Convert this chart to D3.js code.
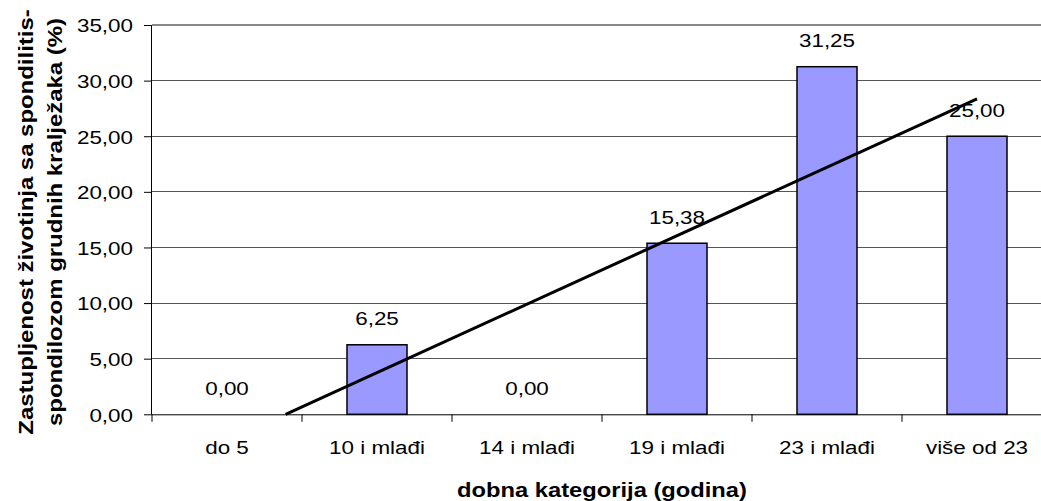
<!DOCTYPE html>
<html><head><meta charset="utf-8">
<script src="https://cdn.jsdelivr.net/npm/d3@7"></script>
<style>body{margin:0;background:#fff}svg{display:block;font-family:"Liberation Sans",Arial,sans-serif}</style>
</head><body>
<svg id="c" width="1041" height="501"></svg>
<script>
const categories = ["do 5","10 i mlađi","14 i mlađi","19 i mlađi","23 i mlađi","više od 23"];
const values = [0.00, 6.25, 0.00, 15.38, 31.25, 25.00];
const yTicks = [0,5,10,15,20,25,30,35];
const xTitle = "dobna kategorija (godina)";
const yTitle = ["Zastupljenost životinja sa spondilitis-","spondilozom grudnih kralježaka (%)"];

const FONT = '"Liberation Sans",Arial,sans-serif';
const FS = 19, SX = 1.18;
const svg = d3.select("#c");
const L = 152, R = 1052, T = 25, B = 414.3;
const x = d3.scaleBand().domain(categories).range([L, R]).paddingInner(0.6).paddingOuter(0.3);
const xc = d3.scaleBand().domain(categories).range([L, R]);
const y = d3.scaleLinear().domain([0, 35]).range([B, T]);
const fmt = v => v.toFixed(2).replace(".", ",");

// gridlines
svg.append("g").selectAll("line").data(yTicks.filter(d => d > 0 && d < 35)).join("line")
  .attr("x1", L).attr("x2", 1041).attr("y1", d => y(d)).attr("y2", d => y(d))
  .attr("stroke", "#555").attr("stroke-width", 1).attr("shape-rendering","crispEdges");
svg.append("line").attr("x1", L).attr("x2", 1041).attr("y1", y(35)).attr("y2", y(35))
  .attr("stroke", "#888").attr("stroke-width", 2);

// bars
svg.append("g").selectAll("rect").data(values.map((v,i)=>({c:categories[i],v})).filter(d=>d.v>0)).join("rect")
  .attr("x", d => x(d.c)).attr("width", x.bandwidth())
  .attr("y", d => y(d.v)).attr("height", d => y(0) - y(d.v))
  .attr("fill", "#9999FF").attr("stroke", "#000").attr("stroke-width", 1.5);

// y axis
const yAxis = d3.axisLeft(y).tickValues(yTicks).tickSize(8).tickFormat(fmt);
const gy = svg.append("g").attr("transform", `translate(${L},0)`).call(yAxis);
gy.select(".domain").attr("stroke", "#000").attr("d", `M-0.5,${T}V${B}`);
gy.selectAll(".tick line").attr("stroke", "#000");
gy.selectAll(".tick text").attr("x", 0).attr("dy", null).attr("y", 0)
  .attr("transform", `translate(-19,6.8) scale(${SX},1)`)
  .attr("font-size", FS).attr("fill", "#000").attr("font-family", FONT);

// x axis
const xAxis = d3.axisBottom(xc).tickSize(0).tickPadding(0);
const gx = svg.append("g").attr("transform", `translate(0,${B})`).call(xAxis);
gx.select(".domain").attr("stroke", "#000").attr("d", `M${L},0.5H1041`);
gx.selectAll(".tick text").attr("dy", null).attr("y", 0)
  .attr("transform", `translate(0,39.7) scale(${SX},1)`)
  .attr("font-size", FS).attr("fill", "#000").attr("font-family", FONT);
// category boundary ticks
svg.append("g").selectAll("line").data(categories).join("line")
  .attr("x1", d => xc(d)).attr("x2", d => xc(d)).attr("y1", B).attr("y2", B + 7.5)
  .attr("stroke", "#000");

// trend line (linear regression of the series)
const n = values.length;
const xs = values.map((_, i) => i + 1);
const mx = d3.mean(xs), my = d3.mean(values);
const slope = d3.sum(xs.map((xi, i) => (xi - mx) * (values[i] - my))) / d3.sum(xs.map(xi => (xi - mx) ** 2));
const icpt = my - slope * mx;
const xPos = t => xc(categories[0]) + xc.bandwidth() / 2 + (t - 1) * xc.step();
const x0 = -icpt / slope;
svg.append("line").attr("x1", xPos(x0)).attr("y1", y(0)).attr("x2", xPos(n)).attr("y2", y(icpt + slope * n))
  .attr("stroke", "#000").attr("stroke-width", 3);

// data labels
svg.append("g").selectAll("text").data(values.map((v,i)=>({c:categories[i],v}))).join("text")
  .attr("transform", d => `translate(${xc(d.c) + xc.bandwidth()/2},${y(d.v) - 19.3}) scale(${SX},1)`)
  .attr("text-anchor", "middle").attr("font-size", FS).attr("fill", "#000").text(d => fmt(d.v));

// axis titles
svg.append("text").attr("transform", `translate(${(L + R) / 2},497) scale(1.13,1)`).attr("text-anchor", "middle")
  .attr("font-size", 21).attr("font-weight", "bold").text(xTitle);
const yt = svg.append("text").attr("transform", `translate(0,222) rotate(-90) scale(1.14,1)`)
  .attr("text-anchor", "middle").attr("font-size", 21).attr("font-weight", "bold");
yt.append("tspan").attr("x", 0).attr("y", 33).text(yTitle[0]);
yt.append("tspan").attr("x", 0).attr("y", 62).text(yTitle[1]);
</script>
</body></html>
